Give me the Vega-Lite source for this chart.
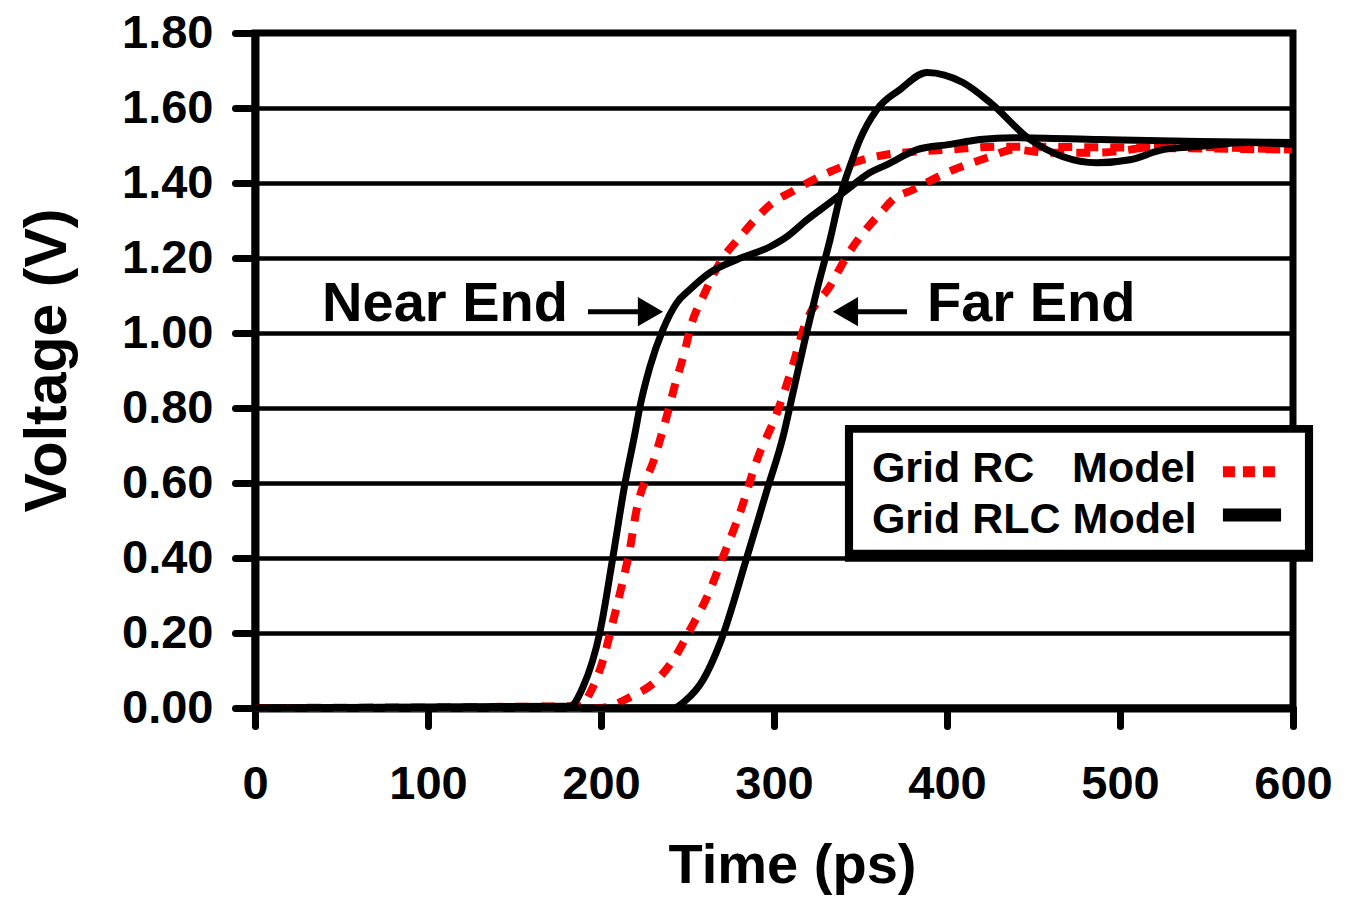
{
  "$schema": "https://vega.github.io/schema/vega-lite/v6.json",
  "width": 1038,
  "height": 675,
  "autosize": "none",
  "padding": {"left": 255, "top": 33, "right": 61, "bottom": 204},
  "background": "white",
  "config": {"view": {"stroke": "black", "strokeWidth": 7}, "font": "Liberation Sans"},
  "datasets": {
    "curves": [
      {"t": 0, "v": 0, "model": "RLC", "end": "Near"},
      {"t": 182.1, "v": 0.005, "model": "RLC", "end": "Near"},
      {"t": 189.6, "v": 0.056, "model": "RLC", "end": "Near"},
      {"t": 199.4, "v": 0.203, "model": "RLC", "end": "Near"},
      {"t": 206.9, "v": 0.403, "model": "RLC", "end": "Near"},
      {"t": 213.9, "v": 0.6, "model": "RLC", "end": "Near"},
      {"t": 219.7, "v": 0.734, "model": "RLC", "end": "Near"},
      {"t": 222.5, "v": 0.803, "model": "RLC", "end": "Near"},
      {"t": 228.3, "v": 0.91, "model": "RLC", "end": "Near"},
      {"t": 235.8, "v": 1.009, "model": "RLC", "end": "Near"},
      {"t": 243.9, "v": 1.081, "model": "RLC", "end": "Near"},
      {"t": 251.4, "v": 1.116, "model": "RLC", "end": "Near"},
      {"t": 263.0, "v": 1.161, "model": "RLC", "end": "Near"},
      {"t": 278.6, "v": 1.196, "model": "RLC", "end": "Near"},
      {"t": 297.7, "v": 1.23, "model": "RLC", "end": "Near"},
      {"t": 307.5, "v": 1.257, "model": "RLC", "end": "Near"},
      {"t": 319.1, "v": 1.302, "model": "RLC", "end": "Near"},
      {"t": 332.4, "v": 1.348, "model": "RLC", "end": "Near"},
      {"t": 342.2, "v": 1.382, "model": "RLC", "end": "Near"},
      {"t": 355.5, "v": 1.428, "model": "RLC", "end": "Near"},
      {"t": 365.3, "v": 1.449, "model": "RLC", "end": "Near"},
      {"t": 382.7, "v": 1.489, "model": "RLC", "end": "Near"},
      {"t": 401.7, "v": 1.503, "model": "RLC", "end": "Near"},
      {"t": 419.1, "v": 1.516, "model": "RLC", "end": "Near"},
      {"t": 438.2, "v": 1.521, "model": "RLC", "end": "Near"},
      {"t": 488.4, "v": 1.516, "model": "RLC", "end": "Near"},
      {"t": 546.2, "v": 1.511, "model": "RLC", "end": "Near"},
      {"t": 599.4, "v": 1.508, "model": "RLC", "end": "Near"},

      {"t": 0, "v": 0, "model": "RC", "end": "Near"},
      {"t": 188.5, "v": 0.005, "model": "RC", "end": "Near"},
      {"t": 193.6, "v": 0.04, "model": "RC", "end": "Near"},
      {"t": 201.2, "v": 0.128, "model": "RC", "end": "Near"},
      {"t": 206.9, "v": 0.23, "model": "RC", "end": "Near"},
      {"t": 212.1, "v": 0.328, "model": "RC", "end": "Near"},
      {"t": 216.8, "v": 0.427, "model": "RC", "end": "Near"},
      {"t": 220.2, "v": 0.52, "model": "RC", "end": "Near"},
      {"t": 231.2, "v": 0.67, "model": "RC", "end": "Near"},
      {"t": 238.7, "v": 0.79, "model": "RC", "end": "Near"},
      {"t": 242.8, "v": 0.862, "model": "RC", "end": "Near"},
      {"t": 248.6, "v": 0.955, "model": "RC", "end": "Near"},
      {"t": 251.4, "v": 1.009, "model": "RC", "end": "Near"},
      {"t": 260.1, "v": 1.108, "model": "RC", "end": "Near"},
      {"t": 268.8, "v": 1.188, "model": "RC", "end": "Near"},
      {"t": 281.5, "v": 1.262, "model": "RC", "end": "Near"},
      {"t": 290.2, "v": 1.308, "model": "RC", "end": "Near"},
      {"t": 299.4, "v": 1.348, "model": "RC", "end": "Near"},
      {"t": 310.4, "v": 1.377, "model": "RC", "end": "Near"},
      {"t": 320.8, "v": 1.404, "model": "RC", "end": "Near"},
      {"t": 332.4, "v": 1.43, "model": "RC", "end": "Near"},
      {"t": 345.7, "v": 1.454, "model": "RC", "end": "Near"},
      {"t": 365.3, "v": 1.476, "model": "RC", "end": "Near"},
      {"t": 382.7, "v": 1.484, "model": "RC", "end": "Near"},
      {"t": 401.7, "v": 1.489, "model": "RC", "end": "Near"},
      {"t": 428.9, "v": 1.497, "model": "RC", "end": "Near"},
      {"t": 488.4, "v": 1.495, "model": "RC", "end": "Near"},
      {"t": 599.4, "v": 1.489, "model": "RC", "end": "Near"},

      {"t": 0, "v": 0, "model": "RLC", "end": "Far"},
      {"t": 241.6, "v": 0, "model": "RLC", "end": "Far"},
      {"t": 249.1, "v": 0.021, "model": "RLC", "end": "Far"},
      {"t": 259.0, "v": 0.075, "model": "RLC", "end": "Far"},
      {"t": 268.8, "v": 0.173, "model": "RLC", "end": "Far"},
      {"t": 284.4, "v": 0.403, "model": "RLC", "end": "Far"},
      {"t": 296.0, "v": 0.582, "model": "RLC", "end": "Far"},
      {"t": 305.2, "v": 0.723, "model": "RLC", "end": "Far"},
      {"t": 311.0, "v": 0.841, "model": "RLC", "end": "Far"},
      {"t": 317.9, "v": 0.982, "model": "RLC", "end": "Far"},
      {"t": 324.9, "v": 1.116, "model": "RLC", "end": "Far"},
      {"t": 332.4, "v": 1.249, "model": "RLC", "end": "Far"},
      {"t": 338.2, "v": 1.364, "model": "RLC", "end": "Far"},
      {"t": 343.9, "v": 1.444, "model": "RLC", "end": "Far"},
      {"t": 349.7, "v": 1.516, "model": "RLC", "end": "Far"},
      {"t": 359.5, "v": 1.596, "model": "RLC", "end": "Far"},
      {"t": 372.8, "v": 1.649, "model": "RLC", "end": "Far"},
      {"t": 388.4, "v": 1.695, "model": "RLC", "end": "Far"},
      {"t": 409.2, "v": 1.668, "model": "RLC", "end": "Far"},
      {"t": 424.9, "v": 1.615, "model": "RLC", "end": "Far"},
      {"t": 448.0, "v": 1.516, "model": "RLC", "end": "Far"},
      {"t": 467.1, "v": 1.47, "model": "RLC", "end": "Far"},
      {"t": 486.7, "v": 1.454, "model": "RLC", "end": "Far"},
      {"t": 505.8, "v": 1.462, "model": "RLC", "end": "Far"},
      {"t": 524.9, "v": 1.489, "model": "RLC", "end": "Far"},
      {"t": 544.5, "v": 1.497, "model": "RLC", "end": "Far"},
      {"t": 573.4, "v": 1.508, "model": "RLC", "end": "Far"},
      {"t": 599.4, "v": 1.503, "model": "RLC", "end": "Far"},

      {"t": 0, "v": 0, "model": "RC", "end": "Far"},
      {"t": 199.4, "v": 0, "model": "RC", "end": "Far"},
      {"t": 216.8, "v": 0.029, "model": "RC", "end": "Far"},
      {"t": 232.4, "v": 0.075, "model": "RC", "end": "Far"},
      {"t": 242.8, "v": 0.136, "model": "RC", "end": "Far"},
      {"t": 251.4, "v": 0.208, "model": "RC", "end": "Far"},
      {"t": 261.3, "v": 0.296, "model": "RC", "end": "Far"},
      {"t": 270.5, "v": 0.403, "model": "RC", "end": "Far"},
      {"t": 280.3, "v": 0.52, "model": "RC", "end": "Far"},
      {"t": 290.2, "v": 0.662, "model": "RC", "end": "Far"},
      {"t": 301.7, "v": 0.787, "model": "RC", "end": "Far"},
      {"t": 310.4, "v": 0.907, "model": "RC", "end": "Far"},
      {"t": 317.9, "v": 1.022, "model": "RC", "end": "Far"},
      {"t": 332.9, "v": 1.129, "model": "RC", "end": "Far"},
      {"t": 342.2, "v": 1.206, "model": "RC", "end": "Far"},
      {"t": 353.2, "v": 1.276, "model": "RC", "end": "Far"},
      {"t": 362.4, "v": 1.324, "model": "RC", "end": "Far"},
      {"t": 368.8, "v": 1.356, "model": "RC", "end": "Far"},
      {"t": 380.3, "v": 1.382, "model": "RC", "end": "Far"},
      {"t": 400.0, "v": 1.428, "model": "RC", "end": "Far"},
      {"t": 424.9, "v": 1.47, "model": "RC", "end": "Far"},
      {"t": 438.2, "v": 1.489, "model": "RC", "end": "Far"},
      {"t": 457.8, "v": 1.481, "model": "RC", "end": "Far"},
      {"t": 486.7, "v": 1.481, "model": "RC", "end": "Far"},
      {"t": 524.9, "v": 1.497, "model": "RC", "end": "Far"},
      {"t": 599.4, "v": 1.489, "model": "RC", "end": "Far"}
    ]
  },
  "layer": [
    {
      "data": {"name": "curves"},
      "transform": [{"filter": "datum.model === 'RC'"}],
      "mark": {"type": "line", "color": "#ff0000", "strokeWidth": 8, "strokeDash": [14, 12], "interpolate": "monotone"},
      "encoding": {
        "x": {
          "field": "t", "type": "quantitative",
          "scale": {"domain": [0, 600], "nice": false, "zero": false},
          "axis": {
            "values": [0, 100, 200, 300, 400, 500, 600],
            "title": "Time (ps)", "grid": false,
            "domainColor": "black", "domainWidth": 8,
            "tickColor": "black", "tickWidth": 7, "tickSize": 18, "tickCap": "round",
            "labelFont": "Liberation Sans", "labelFontWeight": "bold", "labelFontSize": 47,
            "labelColor": "black", "labelPadding": 72, "labelBaseline": "alphabetic", "labelFlush": false,
            "titleFont": "Liberation Sans", "titleFontSize": 56, "titleFontWeight": "bold", "titleColor": "black",
            "titleX": 537, "titleY": 174, "titleBaseline": "alphabetic", "titleAlign": "center"
          }
        },
        "y": {
          "field": "v", "type": "quantitative",
          "scale": {"domain": [0, 1.8], "nice": false},
          "axis": {
            "values": [0, 0.2, 0.4, 0.6, 0.8, 1, 1.2, 1.4, 1.6, 1.8],
            "format": ".2f",
            "title": "Voltage (V)", "grid": true, "gridColor": "black", "gridWidth": 4.5, "gridOpacity": 1,
            "domainColor": "black", "domainWidth": 8,
            "tickColor": "black", "tickWidth": 7, "tickSize": 20, "tickCap": "round",
            "labelFont": "Liberation Sans", "labelFontWeight": "bold", "labelFontSize": 47,
            "labelColor": "black", "labelPadding": 22, "labelBaseline": "middle", "labelFlush": false,
            "titleFont": "Liberation Sans", "titleFontSize": 59, "titleFontWeight": "bold", "titleColor": "black",
            "titleAngle": 270, "titleX": -190, "titleY": 327, "titleBaseline": "alphabetic", "titleAlign": "center"
          }
        },
        "detail": {"field": "end"}
      }
    },
    {
      "data": {"name": "curves"},
      "transform": [{"filter": "datum.model === 'RLC'"}],
      "mark": {"type": "line", "color": "black", "strokeWidth": 7, "interpolate": "monotone"},
      "encoding": {
        "x": {"field": "t", "type": "quantitative"},
        "y": {"field": "v", "type": "quantitative"},
        "detail": {"field": "end"}
      }
    },
    {
      "data": {"values": [{"x1": 341.0, "x2": 611.6, "y1": 0.755, "y2": 0.39}]},
      "mark": {"type": "rect", "fill": "black"},
      "encoding": {
        "x": {"field": "x1", "type": "quantitative"},
        "x2": {"field": "x2"},
        "y": {"field": "y1", "type": "quantitative"},
        "y2": {"field": "y2"}
      }
    },
    {
      "data": {"values": [{"x1": 345.7, "x2": 606.9, "y1": 0.734, "y2": 0.422}]},
      "mark": {"type": "rect", "fill": "white"},
      "encoding": {
        "x": {"field": "x1", "type": "quantitative"},
        "x2": {"field": "x2"},
        "y": {"field": "y1", "type": "quantitative"},
        "y2": {"field": "y2"}
      }
    },
    {
      "data": {"values": [
        {"label": "Grid RC", "t": 356.6, "v": 0.603},
        {"label": "Model", "t": 472.3, "v": 0.603},
        {"label": "Grid RLC Model", "t": 356.6, "v": 0.467}
      ]},
      "mark": {"type": "text", "font": "Liberation Sans", "fontWeight": "bold", "fontSize": 43, "align": "left", "baseline": "alphabetic", "color": "black"},
      "encoding": {
        "x": {"field": "t", "type": "quantitative"},
        "y": {"field": "v", "type": "quantitative"},
        "text": {"field": "label"}
      }
    },
    {
      "data": {"values": [{"t1": 559.5, "t2": 590.8, "v": 0.63}]},
      "mark": {"type": "rule", "color": "#ff0000", "strokeWidth": 11, "strokeDash": [12, 8], "strokeCap": "butt"},
      "encoding": {
        "x": {"field": "t1", "type": "quantitative"},
        "x2": {"field": "t2"},
        "y": {"field": "v", "type": "quantitative"}
      }
    },
    {
      "data": {"values": [{"t1": 559.5, "t2": 593.1, "v": 0.515}]},
      "mark": {"type": "rule", "color": "black", "strokeWidth": 13, "strokeCap": "butt"},
      "encoding": {
        "x": {"field": "t1", "type": "quantitative"},
        "x2": {"field": "t2"},
        "y": {"field": "v", "type": "quantitative"}
      }
    },
    {
      "data": {"values": [
        {"label": "Near End", "t": 180.9, "v": 1.033}
      ]},
      "mark": {"type": "text", "font": "Liberation Sans", "fontWeight": "bold", "fontSize": 56, "align": "right", "baseline": "alphabetic", "color": "black"},
      "encoding": {
        "x": {"field": "t", "type": "quantitative"},
        "y": {"field": "v", "type": "quantitative"},
        "text": {"field": "label"}
      }
    },
    {
      "data": {"values": [
        {"label": "Far End", "t": 388.4, "v": 1.033}
      ]},
      "mark": {"type": "text", "font": "Liberation Sans", "fontWeight": "bold", "fontSize": 56, "align": "left", "baseline": "alphabetic", "color": "black"},
      "encoding": {
        "x": {"field": "t", "type": "quantitative"},
        "y": {"field": "v", "type": "quantitative"},
        "text": {"field": "label"}
      }
    },
    {
      "data": {"values": [
        {"t1": 192.5, "t2": 222.5, "v": 1.057},
        {"t1": 346.8, "t2": 376.9, "v": 1.057}
      ]},
      "mark": {"type": "rule", "color": "black", "strokeWidth": 5},
      "encoding": {
        "x": {"field": "t1", "type": "quantitative"},
        "x2": {"field": "t2"},
        "y": {"field": "v", "type": "quantitative"}
      }
    },
    {
      "data": {"values": [{"t": 228.6, "v": 1.057}]},
      "mark": {"type": "point", "shape": "triangle-right", "size": 850, "filled": true, "color": "black", "opacity": 1},
      "encoding": {
        "x": {"field": "t", "type": "quantitative"},
        "y": {"field": "v", "type": "quantitative"}
      }
    },
    {
      "data": {"values": [{"t": 341.3, "v": 1.057}]},
      "mark": {"type": "point", "shape": "triangle-left", "size": 850, "filled": true, "color": "black", "opacity": 1},
      "encoding": {
        "x": {"field": "t", "type": "quantitative"},
        "y": {"field": "v", "type": "quantitative"}
      }
    }
  ]
}
